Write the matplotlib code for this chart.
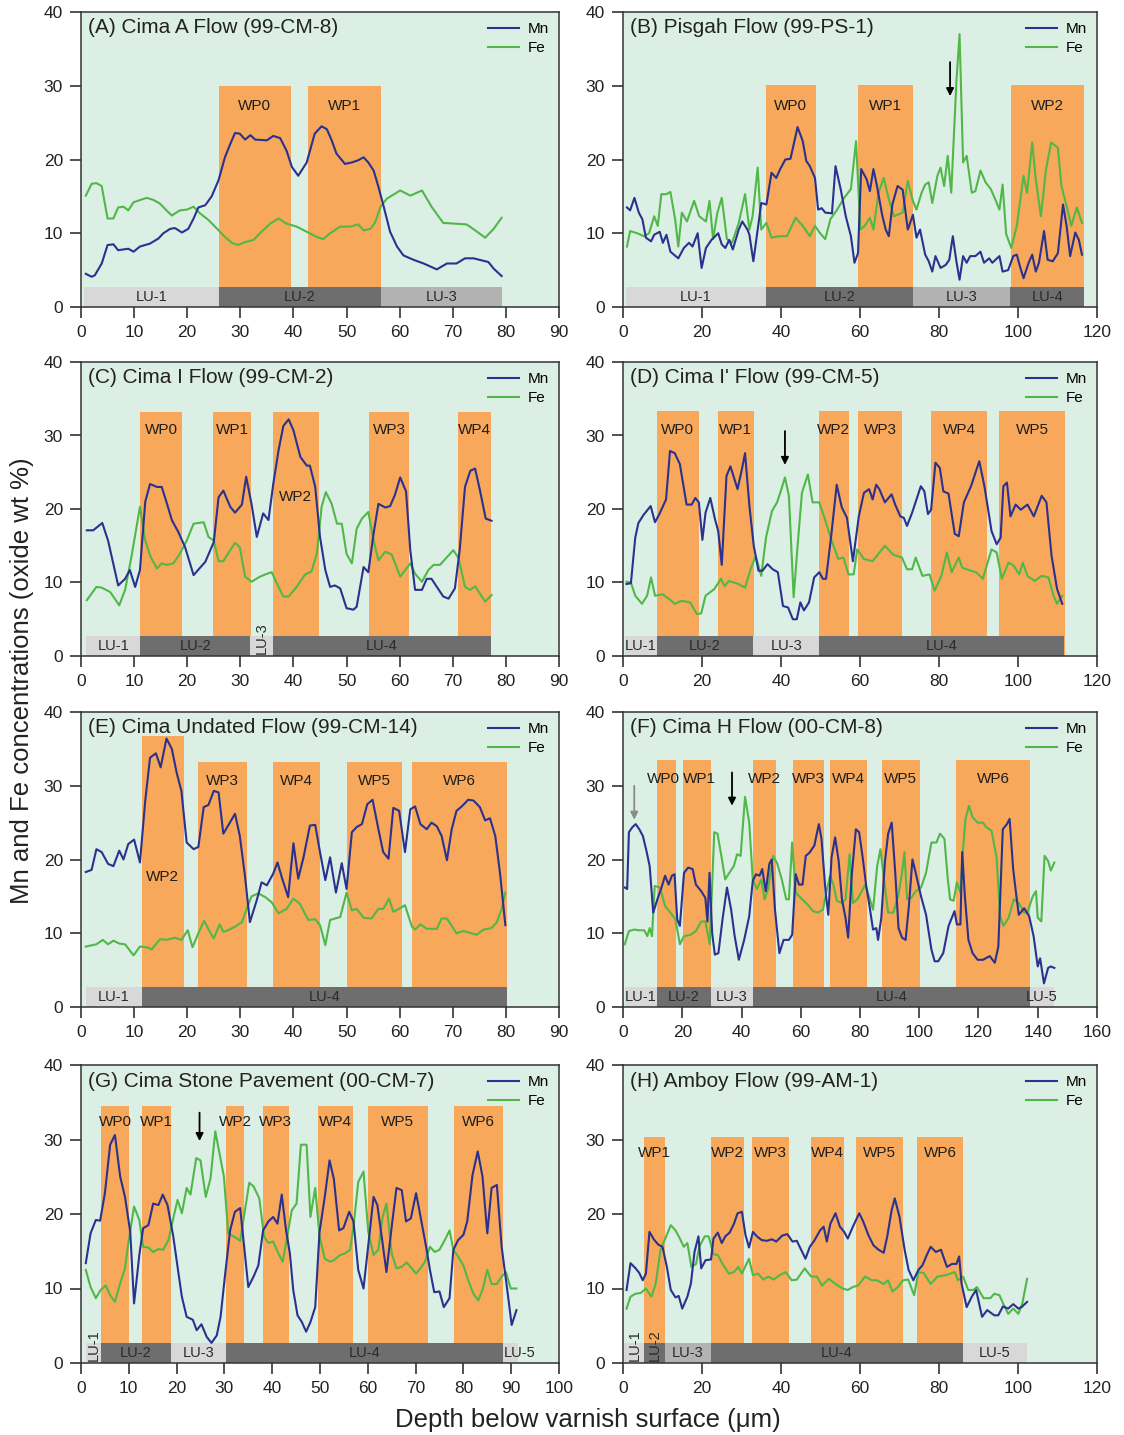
import matplotlib
matplotlib.use("Agg")
import matplotlib.pyplot as plt

plt.rcParams['font.family'] = ['Liberation Sans', 'DejaVu Sans']

# ---------------- data ----------------
# Panel A: Cima A Flow
A_mn_x = [0.9,2,2.6,3.9,5,6.1,7,8.9,9.9,11.1,13,14.6,15.5,16.8,17.7,19,20.2,21.2,22.1,23.4,
          24.6,25.9,27.1,28.1,29,29.9,30.9,31.9,32.8,35,36.2,37.5,38.7,39.7,40.9,42.5,44,45.3,46.3,47.2,
          48.1,49.7,51,52.2,53.2,54.1,55.1,56,57,58.2,59.5,60.7,62.6,64.5,67,68.9,70.7,72.3,73.9,76.7,
          77.7,78.3,79.2]
A_mn = [4.5,4.1,4.3,5.9,8.4,8.5,7.7,7.9,7.5,8.2,8.6,9.3,10,10.6,10.7,10.1,10.6,12,13.5,13.8,
        15,17.2,20.3,22.1,23.6,23.5,22.7,23.3,22.7,22.6,23.2,22.9,21.2,19,17.8,19.6,23.5,24.5,24.1,22.6,
        20.8,19.4,19.6,19.9,20.3,19.6,18.5,16.3,13.6,10.2,8.2,7,6.4,5.9,5.1,5.9,5.9,6.6,6.6,6.1,
        5.2,4.8,4.2]
A_fe_x = [0.9,2,2.9,3.9,5,6.1,7,8,8.9,9.9,11.1,12.4,13.7,14.9,16.1,17.1,18.6,19.9,21.2,22.4,
          24,25.5,27.1,28.4,29.6,30.9,32.5,33.7,35.6,37.2,38.7,40.6,42.5,44.4,45.6,46.9,48.8,50.7,52.2,53.2,
          54.5,55.4,56.4,57.6,60.1,62,64.2,66,68.2,70.4,72.6,74.2,76.1,77.7,79.2]
A_fe = [15.1,16.7,16.8,16.4,12,12,13.5,13.6,13.1,14.2,14.5,14.8,14.5,14,13.1,12.4,13.1,13.2,13.6,12.7,
        11.8,10.7,9.5,8.7,8.4,8.8,9.1,10,11.3,12,11.3,10.9,10.2,9.5,9.2,10,10.9,10.9,11.2,10.4,
        10.6,11.5,13.6,14.7,15.8,15.1,15.8,13.6,11.4,11.3,11.2,10.4,9.4,10.6,12.1]
A_wp = [("WP0", 25.9, 39.5), ("WP1", 42.8, 56.5)]
A_lu = [("LU-1", 0.6, 25.9), ("LU-2", 25.9, 56.5), ("LU-3", 56.5, 79.3)]

# Panel B: Pisgah Flow
B_mn_x = [1,1.8,2.9,4,4.9,5.8,7.1,7.9,9.3,10.1, 11,12,14,15.4,16.7,17.6,18.9,19.9,21,22.4,
          24.1,25,25.9,26.9,27.8,29.3,30.2,31.5,32,33, 34.1,35,36.3,37.6,38.8,39.8,41.1,42.4,44.2,45.5,
          46.4,47.3,48.6,49.4,50.3,51.2,52.9,53.8,55.1,56.4, 57.7,58.6,59.5,60.3,61.7,62.5,63.4,64.3,65.6,66.5,
          67.3,68.2,69.5,70.8,72.1,73.4,74.3,75.2,76.5,77.4, 78.3,79.1,80.4,81.7,82.6,83.5,84.4,85.2,86.1,87,
          87.9,89.2,90.5,91.4,92.7,93.5,95.3,96.1,97.5,98.8, 99.7,100.5,101.4,102.7,103.6,104.5,105.3,106.6,107.5,108.8,
          110.1,111.4,112.3,113.2,114.5,115.4,116.2]
B_mn = [13.5,13.1,14.8,12.8,11.9,9.4,8.9,9.8,10.2,8.7, 9.8,7.5,6.6,8,8.7,8.2,10,5.3,8,9.1,
        10,8.5,8,9.1,7.8,10.5,11.6,10.5,9.8,6.2, 10.5,14.1,13.9,18.2,17.5,18.7,20,20.1,24.4,22.5,
        19.8,19.1,17.5,13.2,13.4,12.8,12.7,19.1,16,12.3, 9.6,6,7.3,18.7,17.3,15.7,18.7,16.4,12.5,10.5,
        9.6,13.9,16.4,15.9,10.5,12.5,9.4,10.5,7.1,6.2, 4.8,6.9,5.3,5.7,6.4,9.6,6.2,3.7,6.9,6,
        6.9,6.9,7.5,6,6.6,6,6.9,4.8,5,6.9, 7.1,5.5,3.9,6,7.1,4.8,6,10.3,6.4,6.2,
        7.3,13.9,11,6.9,10.1,9.1,7.1]
B_fe_x = [1,1.8,3.6,5.3,6.6,7.9,8.8,9.7,11,12, 13.2,14,14.9,16.2,18,19.3,21,21.9,22.8,23.9,
          25,26.3,27.6,29.3,30.9,32,32.8,34.1,35,36.3, 37.6,39.4,41.5,43.7,45.5,47.3,48.6,49.9,51.2,52.5,
          54.2,56,57.7,59,60.1,61.2,62.5,63.4,64.7,66, 67.3,68.6,70.8,72.1,73.4,74.3,75.6,76.5,77.4,78.3,
          79.6,80.4,81.3,82.2,83.1,84.4,85.2,86.1,87,88.3, 89.2,90.5,91.8,93.1,94.4,95.3,96.1,97,98.3,99.7,
          101.4,102.3,103.6,104.5,105.8,107.1,108.4,110.1,111,112.3, 113.5,114.9,116.2]
B_fe = [8.2,10.3,10,9.6,10,12.3,11,15.3,15.3,15.6, 11.9,8.2,12.8,11.6,14.4,12.3,11.6,14.4,9.2,12.8,
        14.8,9.2,8.7,11.4,15.3,10.5,12.3,18.9,10.5,11.4, 9.4,9.6,9.6,12.1,11,9.6,11,10,9.2,11.9,
        13.2,14.8,16,22.5,10.5,11,12.1,10.5,15.5,17.5, 14.6,12.3,12.8,17.1,14.4,13.2,15.5,16.6,16.9,14.1,
        17.8,18.9,16.4,20.5,15.5,30.5,37,19.6,20.5,15.5, 15.7,18.5,16.9,16,14.4,13.2,16.6,9.9,8,11,
        17.8,15.5,22.3,17.3,12.3,18.7,22.3,21.6,16.4,13.7, 11,13.5,11.4]
B_wp = [("WP0", 36.2, 48.8), ("WP1", 59.5, 73.3), ("WP2", 98.3, 116.7)]
B_lu = [("LU-1", 0.8, 36.2), ("LU-2", 36.2, 73.3), ("LU-3", 73.3, 98.1), ("LU-4", 98.1, 116.7)]
B_arrows = [82.8]

# Panel C: Cima I Flow
C_mn_x = [1.1,2.3,4,5.1,7,8.3,9.2,10.2,11.1,12.1, 13,14.3,15.2,16.2,17.1,18.3,19.6,21.2,22.4,23.4,
          25,25.9,26.8,28.1,29,30.3,31.1,32.1,33.1,34.3, 35.3,36.2,37.2,38.1,39.1,40,41.3,42.5,43.1,44.1,
          45,46,46.9,47.8,48.8,50,51.3,51.9,53.2,54.1, 55.1,56,57.3,58.2,59.1,60.1,61.2,62,62.9,64.2,
          65.1,66,67,68.2,69.2,70.4,71.3,72.3,73.3,74.2, 75.1,76.2,77.3]
C_mn = [17.1,17.1,18.1,15.7,9.6,10.5,11.7,9.4,11.7,21, 23.4,23,23,20.7,18.5,16.9,14.8,11,12,12.8,
        15.5,21.6,22.5,20.3,19.5,20.6,24.4,20.7,16.2,19.4, 18.5,23.4,28,31.3,32.2,30.7,27.1,25.9,25.9,23,
        16.2,11.7,9.4,9.6,9.2,6.5,6.3,6.7,12.1,11.4, 16.7,20.7,20.2,20.4,21.9,24.3,22.4,14.4,9,9,
        10.5,10.5,9.4,8.1,7.8,9.2,14.4,23,25.2,25.5, 22.6,18.7,18.4]
C_fe_x = [1.1,2.9,3.9,5.5,7.2,8.3,9.5,11.1,12.1,13.1, 14.3,15.2,16.2,17.4,18.6,19.9,21.2,23.1,24,25,
          25.9,26.8,28.1,29,29.9,30.9,32.1,33.7,34.7,35.9, 37.2,38.1,39.1,40.6,42.2,43.4,44.4,45.3,46.1,47.2,
          48.2,49.1,50,51,51.9,52.9,54.1,55.1,56,57.3, 58.5,60.1,62,62.9,64.2,65.4,66.4,67.6,70.1,71.1,
          72.3,73.3,74.2,76.1,77.3]
C_fe = [7.6,9.4,9.3,8.7,6.9,9,13.5,20.3,15.7,13.5, 11.9,12.6,12.4,12.6,13.9,15.7,18,18.2,16.2,15.7,
        12.9,12.9,14.4,15.4,14.8,10.8,10.1,10.8,11.1,11.4, 9.4,8.1,8.1,9.4,11.1,11.5,13.9,20.3,22.3,20.7,
        18,18,13.9,12.6,17.3,18.7,19.6,15.7,13,14.2, 13.8,10.8,12.6,11.2,10.1,11.7,12.4,12.4,14.4,13.3,
        9.4,9,9.5,7.4,8.3]
C_wp = [("WP0", 11.2, 19.0), ("WP1", 24.9, 32.0), ("WP2", 36.1, 44.8), ("WP3", 54.3, 61.8), ("WP4", 70.9, 77.2)]
C_lu = [("LU-1", 0.9, 11.2), ("LU-2", 11.2, 31.8), ("LU-3", 31.8, 36.1), ("LU-4", 36.1, 77.2)]

# Panel D: Cima I' Flow
D_mn_x = [0.9,2,3.1,3.9,5.2,7,8.1,9.2,10.9,11.9, 13.1,14.4,16.1,17.4,18.3,19.2,20.1,20.9,22.1,23.3,
          24.1,25,26.2,27.2,29,30.1,30.9,32,33.1,34.3, 35.3,36.6,37.9,39.2,40.5,41.8,43,44,44.9,45.8,
          47.1,48.4,49.7,50.6,51.4,52.7,54.1,55.4,56.7,58.2, 59.7,61,62.3,63.2,64.1,64.9,66.3,68,68.9,70.2,
          71.1,71.9,73.2,75.4,76.3,77.2,78,79.1,80.2,81.1, 82.4,84,85,86.3,88.1,90.2,91.5,93.3,94.6,95.6,
          96.3,97.2,98.1,99.4,100.7,102.4,104,106,107.2,108.5, 109.9,111.2]
D_mn = [9.8,9.9,16.1,18.1,19.2,20.4,18.2,19.3,21.3,27.9, 27.6,26.1,20.6,20.6,21.5,20.9,15.8,19.5,21.5,18.6,
        17,12.4,24.5,25.8,22.7,25.4,27.6,20.4,15,11.6, 11.6,12.5,11.8,11.4,6.8,6.6,5,5,7.3,6.2,
        7.3,10.7,11.4,10.5,10.5,16.3,23.3,20.2,18.8,12.9, 19,22.2,22.7,21.3,23.3,22.7,20.9,22,20.6,19,
        18.8,17.7,19.5,23.1,22.4,19.3,19.9,26.3,25.6,22.4, 22.1,16.6,16.3,20.9,23.1,26.5,23.1,17,15.2,16.1,
        23.1,23.6,19,20.6,19.9,20.6,19,21.8,20.9,13.6, 9.1,7.1]
D_fe_x = [0.9,2,3.1,4.8,6.1,7.1,8.1,10,11.8,13.1, 14.8,17,18.7,19.8,20.9,23.1,24.8,25.7,26.8,29.2,
          30.9,32.3,33.6,35,36.2,37.7,39,40.1,41,42, 43.2,44.2,45.3,46.8,48,49.7,51,52.7,54.5,55.8,
          57.1,58.4,59.3,61,63.2,66.3,68.4,70.6,71.9,73.2, 74.1,75.8,77.6,78.9,80.6,82,83.2,85,85.9,88.1,
          89.4,91.1,93.3,94.6,95.9,97.6,98.9,100.3,101.2,102.4, 104.2,106,107.7,109,109.9,111.2]
D_fe = [10.1,10,8.2,7.1,8.2,10.7,8.2,8.4,7.7,7.1, 7.5,7.3,5.7,5.8,8.2,9.1,10.5,9.5,10.2,9.8,
        9.3,11.8,13.6,10.9,16.1,19.7,20.9,22.7,24.3,21.8, 8,15,22.2,24.7,20.9,20.9,18.8,15.9,13.2,13.4,
        11.1,11.1,14.5,13.2,12.9,15,13.8,13.4,11.8,11.8, 13.4,10.9,11.1,8.9,10.9,14.1,11.4,13.4,12,11.6,
        11.4,10.5,14.5,14.1,10.5,12.7,12.3,11.1,12.7,10.9, 10.2,10.9,10.7,8.2,7.1,8.2]
D_wp = [("WP0", 8.5, 19.2), ("WP1", 24.0, 33.1), ("WP2", 49.5, 57.3), ("WP3", 59.5, 70.6),
        ("WP4", 77.9, 92.2), ("WP5", 95.3, 111.8)]
D_lu = [("LU-1", 0.6, 8.5), ("LU-2", 8.5, 33.0), ("LU-3", 33.0, 49.7), ("LU-4", 49.7, 111.6)]
D_arrows = [41.0]

# Panel E: Cima Undated Flow
E_mn_x = [0.9,2,2.9,3.9,5.1,6.1,7.2,8,8.9,10, 11.1,12.1,13,14.1,15,16.1,17.1,18,18.9,19.9,
          21.2,22.1,23.1,24,25,25.9,26.8,27.7,29,29.9, 30.9,31.8,33.1,34,35,36.2,37,37.8,39,40,
          40.9,41.9,43.1,44.1,45,46,46.9,48,49.1,50, 51,51.9,52.9,53.9,54.9,56,56.9,57.9,58.8,59.9,
          61,62,62.9,63.9,65.1,66,67,67.9,68.9,69.8, 70.7,71.7,72.9,73.9,75.1,76.1,77,78,78.9,79.9]
E_mn = [18.3,18.6,21.4,21,19.4,19.1,21.2,20,22.1,22.7, 19.6,28,33.8,34.4,32.5,36.4,35,31.8,29.3,22.3,
        21.4,21.7,27.1,27.4,29.3,29.1,23.5,24.6,26.2,23.2, 17.6,11.5,14.5,16.9,16.5,18.1,19.6,17.6,14.9,22.2,
        17.4,20.3,24.6,24.7,21,17.2,20.3,15.5,19.5,16, 23.7,24.4,24.8,27.5,28.1,24.1,21,20.1,27,26.6,
        21,26.8,27.2,24.8,24.1,25,24.5,23.2,19.9,24.1, 26.6,27.2,28.1,28,27.1,25.3,25.6,23.2,18.1,11.1]
E_fe_x = [0.9,2.9,4.1,5.1,6.1,7.2,8.3,9.9,11.1,12.4, 13.3,14.9,16.1,17.7,18.9,20.1,21,22.1,23.2,24.1,
          25,26.1,26.8,27.7,29,30.3,31.2,32.1,33.4,34.7, 35.9,37.2,38.7,40,41.2,42.8,44.1,45,46,46.9,
          48.8,50,51,51.9,53.2,54.7,56,56.9,58,58.8, 59.8,61,62.3,62.9,63.9,65.1,67,67.9,68.9,70.7,
          72,74.5,75.8,77.3,78.3,79.2,79.9]
E_fe = [8.2,8.5,9.1,8.5,9,8.6,8.5,7,8.2,8.1, 7.8,9.2,9.1,9.4,9.1,10.4,8.1,10,11.7,10.4,
        9.3,11.2,10.2,10.4,10.9,11.5,13.3,15,15.4,14.9, 14.2,12.7,13.3,14.7,14,11.8,11.9,11.1,8.4,11.8,
        12.2,15.5,13.1,13.3,12.1,12,13.3,13.3,14.7,12.9, 13.3,13.8,10.9,10.5,11.2,10.6,10.6,12,12,10,
        10.3,9.8,10.5,10.7,11.5,13.3,15.5]
E_wp = [("WP2", 11.4, 19.3), ("WP3", 22.1, 31.2), ("WP4", 36.1, 45.0), ("WP5", 50.0, 60.5), ("WP6", 62.3, 80.2)]
E_lu = [("LU-1", 0.9, 11.4), ("LU-4", 11.4, 80.2)]

# Panel F: Cima H Flow
F_mn_x = [0.6,1.4,2,3.2,4.3,5.5,6.7,7.9,9,10.2, 11.6,13,14.2,15.4,16.5,17.4,18.3,19.2,20.6,22,
          23.5,24.6,26.4,27.8,28.5,29.2,30.1,31,32.2,33.6, 35.1,36.5,37.7,39.1,40.9,42.6,43.8,44.9,46.1,47,
          48.2,49.4,50.2,51.3,52.8,54.2,56,57.1,58.3,59.4, 60.6,61.7,62.9,64.6,66.1,67,68.4,69.3,70.4,71.6,
          72.8,73.9,75.1,76,77.2,78.6,79.7,80.9,82.1,83.2, 84.4,85.5,86.1,87.2,88.4,89.5,90.7,91.9,93,94.2,
          95.4,96.5,97.7,98.8,100.6,102.3,104.1,105.2,106.4,108.1, 109.9,111,111.9,112.7,113.9,114.5,115.4,116.6,118,119.7,
          121.5,123.8,125.5,126.7,128.2,129.6,130.5,131.7,132.8,133.6, 135.4,137.1,138.6,140,140.8,142.1,143.5,144.4,145.6]
F_mn = [16.2,16,23.7,24.4,24.8,24.1,23.2,21.2,19.1,12.8, 14.6,16.2,17.8,16.6,17.8,18,11.9,11,18.2,18.9,
        18.7,16.6,15.7,14.8,11.6,18.2,10,7.1,7.3,11.9, 16.2,13.2,9.6,6.4,9.1,12.3,17.1,18,17.8,18.7,
        15.7,19.4,20,13.2,7.3,9.1,9.1,9.8,18,16.6, 16.6,20.5,20.9,21.9,24.8,22.8,15.5,12.5,20.3,23,
        19.8,14.6,12.1,9.4,17.8,24.1,23.7,20.3,16.4,13.7, 10.5,10.7,9.1,12.1,19.6,23.5,25,18.2,10.7,9.4,
        9.1,13.7,20,18.2,15,12.5,7.8,6.2,6.2,7.3, 11,12.1,13,11.2,11.2,21,15,9.1,7.3,6.4,
        6.4,6.9,6,8.2,24.1,24.8,25.5,18.7,15,12.5, 13.4,12.3,9.6,5.5,6.6,3.2,5.3,5.5,5.3]
F_fe_x = [0.6,2,3.8,5.5,7.2,8.2,9,9.8,10.7,12.5, 14.2,16,17.7,19.2,20.6,22.9,24.6,26.4,27.8,29.3,
          30.8,31.9,33.4,34.5,35.9,37.4,38.5,39.7,41.2,42.6, 43.8,45.2,46.7,47.8,49,50.7,52.1,53.6,55.1,56,
          57.1,58.3,60,62.3,64.1,65.8,67.5,68.7,69.9,71, 72.2,73.9,75.1,76.5,77.6,79.1,80.6,81.8,83.2,84.4,
          85.8,86.9,88.1,89.5,91.3,93,94.2,95,95.9,97.3, 98.8,100.6,102.3,104.1,105.8,107,108.5,109.6,110.4,111.6,
          112.7,113.9,114.7,115.6,116.8,118,119.7,121.5,122.6,124.4, 126.1,127.3,128.4,130.2,131.9,133.6,135.4,136.5,138.3,139.4,
          140,141.2,142.3,143.5,144.4,145.6]
F_fe = [8.5,10.3,10.5,10.4,10.4,9.6,10.7,9.6,16.4,16.2, 13.7,12.8,11.9,8.5,9.6,9.8,10.3,11.6,11.6,8.5,
        23.7,23.5,20,17.3,18.2,19.1,20.7,20.5,28.5,25, 17.3,16,17.3,14.6,16,20.5,19.4,17.3,14.6,14.6,
        22.3,15.5,14.8,13.9,13,12.8,13.2,15.7,17.8,16.6, 14.4,14.1,14.6,20.7,14.1,14.6,15.7,16.6,14.8,13.2,
        19.1,21.4,17.3,12.8,12.8,15.3,18.2,21,14.6,14.8, 15.7,16.2,18.2,22.3,22.3,23.5,22.8,17.5,14.6,14.4,
        16.9,15.5,21,25.5,27.3,25.7,25,25,24.4,23.9, 20.3,12.3,11,12.1,14.6,14.1,12.8,12.8,15,15.7,
        12.1,11.6,20.5,19.8,18.5,19.6]
F_wp = [("WP0", 11.5, 18.0), ("WP1", 20.2, 29.6), ("WP2", 43.8, 51.5), ("WP3", 57.4, 67.9),
        ("WP4", 69.9, 82.3), ("WP5", 87.3, 100.3), ("WP6", 112.5, 137.3)]
F_lu = [("LU-1", 0.6, 11.5), ("LU-2", 11.5, 29.6), ("LU-3", 29.6, 43.8), ("LU-4", 43.8, 137.3), ("LU-5", 137.3, 145.6)]
F_arrows = [3.8, 36.8]

# Panel G: Cima Stone Pavement
G_mn_x = [1,2,3.1,4,5,6.1,7.1,8.2,9.2,10.3, 11.1,12.2,13,14.1,15.1,16.2,17.1,18.1,19.3,20.4,
          21.1,22.1,23.4,24.2,25.2,26.3,27.3,28.4,29.2,30.1, 31.2,32.2,33.3,34.1,35,36.1,37.1,38.1,39.2,40.2,
          41.1,42,42.9,43.7,44.4,45.3,46.2,47.1,48,49, 49.9,51,52,52.9,54,54.9,56.1,57,58,59.1,
          60.1,61.2,62,62.9,63.9,65,66,67.1,68,69, 70.1,70.9,72.2,73,73.9,75,75.9,77.1,77.9,78.9,
          80,80.8,81.9,83,84,85,85.9,87,88,89, 90.1,91.1]
G_mn = [13.4,17.4,19.2,19.1,22.8,29.3,30.6,25,22.3,17.6, 8,14.5,18.1,18.5,21.4,21.2,22.6,21.2,17,12,
        8.9,6.2,5.8,4.4,5.2,3.5,2.7,3.7,6.2,11.6, 17.8,20.3,20.8,15.8,10.2,11.6,13.1,17.8,19,19.6,
        18.7,22.6,17.8,14.7,9.8,6.4,5.5,4.2,5.5,7.5, 17.6,22.3,27.2,24.7,17.8,18.1,20.3,19,12.5,10,
        15.8,22.3,21.2,17,12.2,18.3,23.5,23.2,19,19.4, 22.8,20.1,15.6,12.5,9.5,9.6,7.5,8.7,15.2,16.5,
        17.2,19,25.2,28.4,25,17.4,23.5,23.9,15.6,10.7, 5.1,7.1]
G_fe_x = [1,2,3.1,4.1,5.2,6.1,7.1,8.2,9.2,9.9, 11.1,12.2,13,14.1,15.1,16.2,17.2,18.3,19.3,20.2,
          21.1,22.1,22.9,24.1,25,26.1,27.1,28.1,29.1,29.9, 30.8,31.9,33.3,34.3,35.2,36.1,37.3,38.3,39.2,40.2,
          41.3,42.2,43.2,44.1,45.1,46,47.2,48,49,49.9, 51,52.1,52.9,54.2,55.2,56.3,57,58,59.1,60.1,
          61.2,62.2,63.1,63.9,65,66,67.1,68.1,69.2,70.1, 71,71.9,73,74,75,76.1,77.1,77.9,78.9,80,
          81,82.1,83.1,84,85,85.9,87,88,88.9,89.9, 91.1]
G_fe = [12.5,10.2,8.7,9.8,10.4,9.1,8.2,10.7,12.7,16.1, 21,19.2,15.6,15.5,14.9,15.3,15.2,16.5,19.4,21.9,
        20.1,23.5,22.6,27.5,27.2,22.3,24.8,31.1,27.7,25, 17.4,17,16.4,20.5,24.2,23.7,22.1,17,16.1,16.3,
        14.7,13.6,17.2,20.5,21.4,29.3,29.3,19.6,23.5,17, 14,13.6,13.8,14.5,14.7,15.2,18.3,24.3,25.7,17.6,
        14.5,15.2,19.6,21.4,14.7,12.7,12.9,13.5,12.7,12, 12.7,13.5,15.6,14.9,15.2,16.5,17.8,15.2,14.3,13.1,
        11.1,9.3,8.4,9.8,12.5,10.6,10.6,11.6,12.2,10, 10]
G_wp = [("WP0", 4.2, 10.0), ("WP1", 12.7, 18.8), ("WP2", 30.3, 34.2), ("WP3", 38.0, 43.5),
        ("WP4", 49.5, 56.8), ("WP5", 60.0, 72.5), ("WP6", 78.0, 88.2)]
G_lu = [("LU-1", 1.0, 4.2), ("LU-2", 4.2, 18.8), ("LU-3", 18.8, 30.3), ("LU-4", 30.3, 88.2), ("LU-5", 88.2, 91.5)]
G_arrows = [24.8]

# Panel H: Amboy Flow
H_mn_x = [0.9,1.9,3.2,4.1,5,5.8,6.7,7.8,8.9,10, 11.1,12.1,13.3,14.1,15,16.3,17.2,18.1,19.1,19.8,
          20.9,22.3,22.9,24,25,25.9,27,28.1,29,30.1, 31,31.9,32.9,33.9,35.1,36.4,37.7,38.8,40.3,41.6,
          42.9,44,45.1,46.2,47.3,48.4,49.9,50.8,51.6,52.5, 53.8,54.9,56,56.9,58.2,59.8,60.8,62.1,63.4,64.7,
          66,66.9,68,68.8,70,71.3,72.3,73.5,74.8,75.8, 77,77.9,79.2,80.5,82,83.3,84.4,85.1,85.7,87,
          88.3,89.4,90.9,92.2,94,95,96.2,97.5,98.8,100.1, 100.9,102.3]
H_mn = [9.8,13.4,12.7,12.1,11.1,12,17.6,16.6,15.9,15.6, 12.9,9.8,8.8,9,7.3,8.9,10.7,14.9,17,12.7,
        13.8,13.9,16.7,17.5,16.1,17,17.5,18.7,20.1,20.3, 17.2,15.5,17.6,17,16.5,16.4,16.6,16.3,17.1,17.3,
        16.3,16.4,15.2,14,15.6,16.4,17.8,18.3,16.3,18.7, 20.1,18.3,17.6,16.7,18.3,20.1,19,17.2,15.8,15.2,
        14.8,17,20.5,22.1,19.6,15.2,12.5,11.1,12.5,13.1, 14.6,15.6,14.9,15.2,12.9,13.3,13.3,14.3,10.7,7.5,
        8.9,9.8,6.2,7.1,6.4,6.4,7.6,7.3,7.9,7.3, 7.5,8.2]
H_fe_x = [0.9,1.9,3.2,4.5,5.8,7.2,8.3,9.5,10.7,12.1, 13.3,14.4,15.4,16.3,17.3,18.5,19.3,20.7,21.7,22.9,
          24,25.2,26.8,28.1,29.2,30.1,31.9,32.9,34.2,35.5, 36.8,38.1,39.7,41.2,42.7,44,46,47.6,49.1,50.4,
          52.1,53.8,55.6,56.9,58.2,59.5,61.3,63,64.3,66, 67.1,68.2,69.6,70.9,72.2,73.7,74.8,76.1,77.9,79.6,
          81.8,84,84.8,86.1,87.4,88.7,89.6,91.3,93,94, 95.3,96.4,97.5,98.8,100.1,101.1,102.3]
H_fe = [7.3,8.9,9.3,9.4,10,8.9,10.7,15.2,16.7,18.5, 17.8,16.7,15.6,16.1,12.9,13.3,15.6,17,17,14.6,
        14.5,13.3,12,12.2,12.9,12,14,11.8,12,11.2, 11.6,11.2,11.8,12.2,11.1,11.2,12.7,11.6,11.6,10.4,
        11.3,10.6,10,9.8,10.2,10.4,11.6,11.1,11.1,10.6, 11.1,9.6,10.2,11.1,11.2,9.1,12.2,12.1,10.6,11.6,
        11.8,12.2,11.1,11.6,9.8,9.8,10.2,8.7,8.7,9.3, 9.1,7.8,6.6,7.3,6.6,8,11.3]
H_wp = [("WP1", 5.4, 10.7), ("WP2", 22.2, 30.7), ("WP3", 32.6, 42.1), ("WP4", 47.6, 56.0),
        ("WP5", 58.9, 70.9), ("WP6", 74.4, 86.1)]
H_lu = [("LU-1", 0.3, 5.4), ("LU-2", 5.4, 10.7), ("LU-3", 10.7, 22.2), ("LU-4", 22.2, 86.1), ("LU-5", 86.1, 102.3)]

TITLES = ["(A) Cima A Flow (99-CM-8)", "(B) Pisgah Flow (99-PS-1)", "(C) Cima I Flow (99-CM-2)",
          "(D) Cima I' Flow (99-CM-5)", "(E) Cima Undated Flow (99-CM-14)", "(F) Cima H Flow (00-CM-8)",
          "(G) Cima Stone Pavement (00-CM-7)", "(H) Amboy Flow (99-AM-1)"]

# ---------------- styles ----------------
BG = '#dcefe5'
ORANGE = '#f7a85a'
MN_C = '#2a318f'
FE_C = '#50b848'
LU_COL = {'light': '#d8d8d8', 'med': '#b2b2b2', 'dark': '#6e6e6e'}
W, H = 1124, 1435

fig = plt.figure(figsize=(W / 100, H / 100), dpi=100)
fig.patch.set_facecolor('white')

cols = [(81, 559), (623, 1097)]
rows = [(12, 307), (362, 656), (712, 1007), (1065, 1363)]

# per-panel layout/styling (not data)
panels = [
    dict(mnx=A_mn_x, mn=A_mn, fex=A_fe_x, fe=A_fe, wp=A_wp, lu=A_lu, xmax=90, xstep=10,
         top=30.0, laby=27.3, lushade=['light', 'dark', 'med'], arrows=[], vert=[]),
    dict(mnx=B_mn_x, mn=B_mn, fex=B_fe_x, fe=B_fe, wp=B_wp, lu=B_lu, xmax=120, xstep=20,
         top=30.1, laby=27.3, lushade=['light', 'dark', 'med', 'dark'],
         arrows=[(B_arrows[0], 33.2, 28.6, 'black')], vert=[]),
    dict(mnx=C_mn_x, mn=C_mn, fex=C_fe_x, fe=C_fe, wp=C_wp, lu=C_lu, xmax=90, xstep=10,
         top=33.2, laby=30.7, lushade=['light', 'dark', 'light', 'dark'], arrows=[], vert=['LU-3'],
         labyo={'WP2': 21.6}),
    dict(mnx=D_mn_x, mn=D_mn, fex=D_fe_x, fe=D_fe, wp=D_wp, lu=D_lu, xmax=120, xstep=20,
         top=33.3, laby=30.8, lushade=['light', 'dark', 'light', 'dark'],
         arrows=[(D_arrows[0], 30.6, 26.0, 'black')], vert=[]),
    dict(mnx=E_mn_x, mn=E_mn, fex=E_fe_x, fe=E_fe, wp=E_wp, lu=E_lu, xmax=90, xstep=10,
         top=33.2, laby=30.7, lushade=['light', 'dark'], arrows=[], vert=[],
         labyo={'WP2': 17.6}, topo={'WP2': 36.7}),
    dict(mnx=F_mn_x, mn=F_mn, fex=F_fe_x, fe=F_fe, wp=F_wp, lu=F_lu, xmax=160, xstep=20,
         top=33.5, laby=30.9, lushade=['light', 'dark', 'light', 'dark', 'light'],
         arrows=[(F_arrows[0], 30.0, 25.4, '#8a8a8a'), (F_arrows[1], 31.8, 27.3, 'black')], vert=[],
         labxo={'WP0': 13.6, 'WP1': 25.9}),
    dict(mnx=G_mn_x, mn=G_mn, fex=G_fe_x, fe=G_fe, wp=G_wp, lu=G_lu, xmax=100, xstep=10,
         top=34.5, laby=32.3, lushade=['light', 'dark', 'light', 'dark', 'light'],
         arrows=[(G_arrows[0], 33.6, 29.8, 'black')], vert=['LU-1'], luleft=['LU-5']),
    dict(mnx=H_mn_x, mn=H_mn, fex=H_fe_x, fe=H_fe, wp=H_wp, lu=H_lu, xmax=120, xstep=20,
         top=30.3, laby=28.2, lushade=['light', 'dark', 'med', 'dark', 'light'], arrows=[],
         vert=['LU-1', 'LU-2']),
]

LU_H = 2.75
for i, p in enumerate(panels):
    for a, b in (('mnx', 'mn'), ('fex', 'fe')):
        if len(p[a]) != len(p[b]):
            raise ValueError(f"panel {i} {a}:{len(p[a])} {b}:{len(p[b])}")
    c = cols[i % 2]
    r = rows[i // 2]
    ax = fig.add_axes([c[0] / W, 1 - r[1] / H, (c[1] - c[0]) / W, (r[1] - r[0]) / H])
    ax.set_facecolor(BG)
    ax.set_xlim(0, p['xmax'])
    ax.set_ylim(0, 40)
    # orange weathering bands
    for name, s, e in p['wp']:
        top = p.get('topo', {}).get(name, p['top'])
        ax.add_patch(plt.Rectangle((s, 0), e - s, top, facecolor=ORANGE, edgecolor='none', zorder=1))
        ly = p.get('labyo', {}).get(name, p['laby'])
        lx = p.get('labxo', {}).get(name, (s + e) / 2)
        ax.text(lx, ly, name, ha='center', va='center', fontsize=11, color='#1e1e1e', zorder=5)
    # LU bars
    for (name, s, e), shade in zip(p['lu'], p['lushade']):
        ax.add_patch(plt.Rectangle((s, 0), e - s, LU_H, facecolor=LU_COL[shade], edgecolor='none', zorder=2))
        if name in p['vert']:
            ax.text((s + e) / 2, 0.25, name, rotation=90, ha='center', va='bottom', fontsize=10.5,
                    color='#2a2a2a', zorder=6)
        elif name in p.get('luleft', []):
            ax.text(s + 0.2, LU_H / 2 - 0.05, name, ha='left', va='center', fontsize=10.5,
                    color='#2a2a2a', zorder=6)
        else:
            ax.text((s + e) / 2, LU_H / 2 - 0.05, name, ha='center', va='center', fontsize=10.5,
                    color='#2a2a2a', zorder=6)
    ax.plot(p['mnx'], p['mn'], color=MN_C, lw=1.5, label='Mn', zorder=4)
    ax.plot(p['fex'], p['fe'], color=FE_C, lw=1.5, label='Fe', zorder=3)
    for x, y0, y1, col in p['arrows']:
        ax.annotate('', xy=(x, y1), xytext=(x, y0),
                    arrowprops=dict(arrowstyle='-|>', color=col, lw=1.3, mutation_scale=11,
                                    shrinkA=0, shrinkB=0), zorder=7)
    ax.text(0.015, 0.978, TITLES[i], transform=ax.transAxes, ha='left', va='top', fontsize=15,
            color='#222222', zorder=8)
    leg = ax.legend(loc='upper right', frameon=False, fontsize=11, handlelength=2.0,
                    handletextpad=0.6, labelspacing=0.35, borderaxespad=0.25)
    ax.set_xticks(range(0, p['xmax'] + 1, p['xstep']))
    ax.set_yticks([0, 10, 20, 30, 40])
    ax.tick_params(direction='out', length=8, width=1.1, pad=5, labelsize=12.5, colors='#222222',
                   top=False, right=False)
    for sp in ax.spines.values():
        sp.set_color('#333333')
        sp.set_linewidth(1.1)

fig.text(0.0195, 0.526, 'Mn and Fe concentrations (oxide wt %)', rotation=90, ha='center', va='center',
         fontsize=18.5, color='#222222')
fig.text(0.523, 0.0105, 'Depth below varnish surface (\u03bcm)', ha='center', va='center',
         fontsize=18.5, color='#222222')

fig.savefig('out.png', dpi=100, facecolor='white')
